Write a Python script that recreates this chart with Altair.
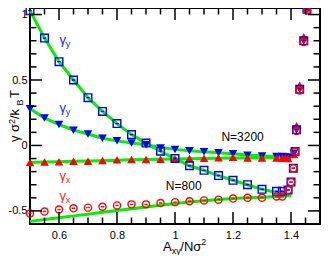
import altair as alt
import pandas as pd

FONT = "Liberation Sans"

# ---------------- data ----------------
# N=800, gamma_y (blue open squares)
sq_x = [0.5, 0.55, 0.6, 0.65, 0.7, 0.75, 0.8, 0.85, 0.9, 0.95, 1.0, 1.05, 1.1, 1.15, 1.2, 1.25, 1.3,
        1.35, 1.37, 1.39, 1.40, 1.408, 1.414, 1.419, 1.43, 1.444, 1.455]
sq_y = [1.03, 0.82, 0.64, 0.50, 0.365, 0.26, 0.167, 0.083, 0.018, -0.044, -0.10, -0.155, -0.19, -0.23,
        -0.266, -0.30, -0.335, -0.35, -0.35, -0.34, -0.28, -0.174, -0.047, 0.12, 0.43, 0.80, 1.04]
# N=800, gamma_x (red open circles)
ci_x = sq_x
ci_y = [-0.52, -0.505, -0.49, -0.48, -0.475, -0.468, -0.458, -0.45, -0.45, -0.44, -0.433, -0.426, -0.42,
        -0.414, -0.406, -0.40, -0.40, -0.39, -0.39, -0.34, -0.28, -0.174, -0.047, 0.11, 0.42, 0.79, 1.03]
# N=3200, gamma_y (blue filled down triangles)
tr_x = [0.5, 0.55, 0.6, 0.65, 0.7, 0.75, 0.8, 0.85, 0.9, 0.95, 1.0, 1.05, 1.1, 1.15, 1.2, 1.25, 1.3,
        1.35, 1.37, 1.38, 1.39, 1.41, 1.419, 1.43, 1.444, 1.455]
td_y = [0.28, 0.21, 0.16, 0.117, 0.087, 0.055, 0.035, 0.018, 0.006, -0.02, -0.03, -0.04, -0.048, -0.055,
        -0.063, -0.075, -0.08, -0.085, -0.085, -0.088, -0.09, -0.06, 0.12, 0.43, 0.80, 1.04]
# N=3200, gamma_x (red filled up triangles)
tu_y = [-0.13, -0.127, -0.124, -0.12, -0.12, -0.115, -0.11, -0.107, -0.107, -0.105, -0.103, -0.10, -0.098,
        -0.094, -0.09, -0.095, -0.095, -0.095, -0.095, -0.097, -0.10, -0.07, 0.15, 0.46, 0.83, 1.05]
# theory curves (green)
gl_x = [0.5, 0.55, 0.6, 0.65, 0.7, 0.75, 0.8, 0.85, 0.9, 0.95, 1.0, 1.05, 1.1, 1.15, 1.2, 1.25, 1.3, 1.35, 1.4]
g_y800 = [1.03, 0.82, 0.64, 0.50, 0.365, 0.26, 0.167, 0.083, 0.018, -0.044, -0.10, -0.155, -0.19, -0.23,
          -0.266, -0.30, -0.335, -0.36, -0.385]
g_x800 = [-0.58, -0.566, -0.552, -0.538, -0.525, -0.511, -0.497, -0.483, -0.47, -0.456, -0.443, -0.432,
          -0.422, -0.413, -0.405, -0.40, -0.396, -0.39, -0.385]
g_y3200 = [0.28, 0.21, 0.16, 0.117, 0.087, 0.055, 0.035, 0.018, 0.006, -0.015, -0.03, -0.04, -0.048,
           -0.055, -0.063, -0.072, -0.08, -0.085, -0.09]
g_x3200 = [-0.13, -0.127, -0.124, -0.121, -0.119, -0.116, -0.113, -0.11, -0.108, -0.106, -0.104, -0.102,
           -0.10, -0.098, -0.096, -0.095, -0.094, -0.093, -0.092]

x_labels = [0.6, 0.8, 1.0, 1.2, 1.4]
y_labels = [-0.5, 0.0, 0.5, 1.0]
x_minor = [0.55, 0.65, 0.7, 0.75, 0.85, 0.9, 0.95, 1.05, 1.1, 1.15, 1.25, 1.3, 1.35, 1.45]
y_minor = [-0.4, -0.3, -0.2, -0.1, 0.1, 0.2, 0.3, 0.4, 0.6, 0.7, 0.8, 0.9]

# annotation positions (data coordinates)
gam_y_pos = [(0.613, 0.806), (0.613, 0.287)]
gam_x_pos = [(0.613, -0.231), (0.613, -0.383)]
n_labels = [("N=3200", 1.233, 0.061), ("N=800", 1.03, -0.309)]

# ---------------- chart ----------------
W, H = 290, 216
xs = alt.Scale(domain=[0.5, 1.5], nice=False, zero=False)
ys = alt.Scale(domain=[-0.6, 1.05], nice=False, zero=False)
xaxis = alt.Axis(values=x_labels, labelExpr="'' + datum.value", ticks=False, domain=False, grid=False,
                 title=None, labelFontSize=11, labelPadding=5, labelColor="black", labelFont=FONT)
yaxis = alt.Axis(values=y_labels, labelExpr="'' + datum.value", ticks=False, domain=False, grid=False,
                 title=None, labelFontSize=11, labelPadding=3, labelColor="black", labelFont=FONT)
X = alt.X("x:Q", scale=xs, axis=xaxis)
Y = alt.Y("y:Q", scale=ys, axis=yaxis)

lines_df = pd.concat([
    pd.DataFrame({"x": gl_x, "y": g_y800, "s": "y800"}),
    pd.DataFrame({"x": gl_x, "y": g_x800, "s": "x800"}),
    pd.DataFrame({"x": gl_x, "y": g_y3200, "s": "y3200"}),
    pd.DataFrame({"x": gl_x, "y": g_x3200, "s": "x3200"}),
])
lines = alt.Chart(lines_df).mark_line(color="#00ee00", strokeWidth=3).encode(x=X, y=Y, detail="s:N")

sq_path = "M-1,-1L1,-1L1,1L-1,1Z M-0.45,0L0.45,0"
ci_path = "M-1,0A1,1,0,1,1,1,0A1,1,0,1,1,-1,0Z M-0.45,0L0.45,0"

sq = alt.Chart(pd.DataFrame({"x": sq_x, "y": sq_y})).mark_point(
    shape=sq_path, filled=False, color="#0000ff", strokeWidth=1.4, size=58, opacity=1).encode(x=X, y=Y)
ci = alt.Chart(pd.DataFrame({"x": ci_x, "y": ci_y})).mark_point(
    shape=ci_path, filled=False, color="#ff0000", strokeWidth=1.4, size=50, opacity=1).encode(x=X, y=Y)
td = alt.Chart(pd.DataFrame({"x": tr_x, "y": td_y})).mark_point(
    shape="triangle-down", filled=True, color="#0000ff", size=75, opacity=1).encode(x=X, y=Y)
tu = alt.Chart(pd.DataFrame({"x": tr_x, "y": tu_y})).mark_point(
    shape="triangle-up", filled=True, color="#ff0000", size=75, opacity=1).encode(x=X, y=Y)

# ticks (inside, mirrored on all four sides)
def xticks(vals, ln):
    d = pd.DataFrame({"x": vals})
    b = alt.Chart(d).mark_rule(color="black", strokeWidth=1.5).encode(
        x=X, y=alt.value(H), y2=alt.value(H - ln))
    t = alt.Chart(d).mark_rule(color="black", strokeWidth=1.5).encode(
        x=X, y=alt.value(0), y2=alt.value(ln))
    return [b, t]

def yticks(vals, ln):
    d = pd.DataFrame({"y": vals})
    l = alt.Chart(d).mark_rule(color="black", strokeWidth=1.5).encode(
        y=Y, x=alt.value(0), x2=alt.value(ln))
    r = alt.Chart(d).mark_rule(color="black", strokeWidth=1.5).encode(
        y=Y, x=alt.value(W), x2=alt.value(W - ln))
    return [l, r]

tick_layers = xticks(x_labels, 12) + xticks(x_minor, 6.5) + yticks(y_labels, 12) + yticks(y_minor, 6.5)

# curve labels
def gam_layer(pos, color, sub):
    d = pd.DataFrame({"x": [p[0] for p in pos], "y": [p[1] for p in pos]})
    g = alt.Chart(d).mark_text(text="γ", color=color, fontSize=13, font=FONT,
                               align="center", baseline="middle").encode(x=X, y=Y)
    s = alt.Chart(d).mark_text(text=sub, color=color, fontSize=9, font=FONT,
                               align="left", baseline="middle", dx=3, dy=4).encode(x=X, y=Y)
    return [g, s]

ann_layers = gam_layer(gam_y_pos, "#2020ff", "y") + gam_layer(gam_x_pos, "#ff2020", "x")
ndf = pd.DataFrame({"t": [n[0] for n in n_labels], "x": [n[1] for n in n_labels], "y": [n[2] for n in n_labels]})
ann_layers.append(alt.Chart(ndf).mark_text(color="black", fontSize=12, font=FONT,
                                           align="center", baseline="middle").encode(x=X, y=Y, text="t:N"))

# axis titles built from pieces (for sub/superscripts)
one = pd.DataFrame({"a": [0]})
def piece(txt, px, py, fs, angle=0):
    kw = dict(text=txt, fontSize=fs, font=FONT, color="black", align="left", baseline="alphabetic")
    if angle:
        kw["angle"] = angle
    return alt.Chart(one).mark_text(**kw).encode(x=alt.value(px), y=alt.value(py))

bx = -11
title_layers = [
    piece("γ", bx, 134, 13, 270),
    piece("σ", bx, 124, 13, 270),
    piece("2", bx - 4.5, 116, 9, 270),
    piece("/k", bx, 111, 13, 270),
    piece("B", bx + 3.5, 97.5, 9, 270),
    piece("T", bx, 90, 13, 270),
    piece("A", 133, H + 27, 13),
    piece("xy", 141.8, H + 30, 9),
    piece("/Nσ", 150.3, H + 27, 13),
    piece("2", 171.3, H + 21, 9),
]

chart = alt.layer(lines, td, tu, sq, ci, *tick_layers, *ann_layers, *title_layers).properties(
    width=W, height=H,
    autosize=alt.AutoSizeParams(type="none"),
    padding={"left": 22, "top": 0, "right": 1, "bottom": 31},
).configure_view(stroke="black", strokeWidth=2)

chart.save("out.html", embed_options={"renderer": "svg", "actions": False})
